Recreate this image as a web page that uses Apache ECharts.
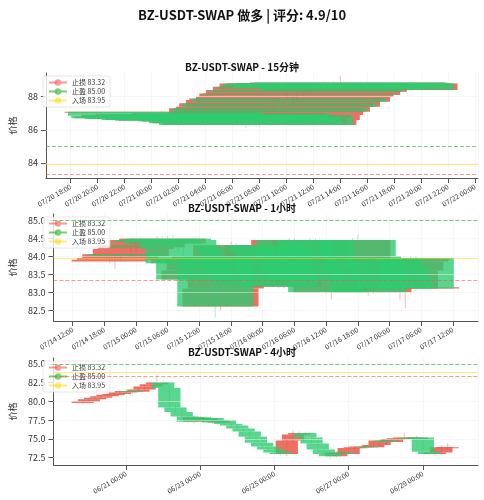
<!DOCTYPE html>
<html>
<head>
<meta charset="utf-8">
<script src="https://cdn.jsdelivr.net/npm/echarts@6/dist/echarts.min.js"></script>
<style>html,body{margin:0;padding:0;background:#fff}#chart{width:484px;height:500px}</style>
</head>
<body>
<div id="chart"></div>
<script>
// 15分钟 K线 (07/21 00:45 起, 每15分钟)
var start15 = '2025-07-21T00:45:00';
var open15  = [87.05,87.10,86.85,86.70,86.80,86.75,86.90,86.65,86.80,86.70,86.95,86.80,86.60,86.75,86.85,86.70,86.55,86.80,86.90,86.65,86.85,87.00,86.70,86.50,86.80,86.60,86.40,86.70,86.90,86.30,86.60,86.90,87.30,87.10,87.40,87.60,87.40,87.80,87.90,87.70,88.00,88.20,88.10,88.40,88.30,88.60,88.50,88.80,88.60,88.80,88.70,88.50,88.80,88.60,88.80,88.70,88.85,88.60,88.80,88.40];
var close15 = [87.10,86.85,86.70,86.80,86.75,86.90,86.65,86.80,86.70,86.95,86.80,86.60,86.75,86.85,86.70,86.55,86.80,86.90,86.65,86.85,87.00,86.70,86.50,86.80,86.60,86.40,86.70,86.90,86.30,86.60,86.90,87.30,87.10,87.40,87.60,87.40,87.80,87.90,87.70,88.00,88.20,88.10,88.40,88.30,88.60,88.50,88.80,88.60,88.80,88.70,88.50,88.80,88.60,88.80,88.70,88.85,88.60,88.80,88.40,88.80];
var low15   = [87.00,86.80,86.65,86.65,86.70,86.70,86.60,86.60,86.65,86.65,86.75,86.55,86.55,86.70,86.60,86.50,86.50,86.75,86.60,86.60,86.80,86.65,86.45,86.45,86.55,86.10,86.35,86.65,86.25,86.25,86.55,86.85,87.05,87.05,87.35,87.35,87.35,87.75,87.65,87.65,87.95,88.05,88.05,88.25,88.25,88.45,88.45,88.55,88.55,88.65,88.45,88.45,88.55,88.55,88.65,88.65,88.55,88.55,88.35,88.35];
var high15  = [87.15,87.15,86.90,86.85,86.85,86.95,86.95,86.85,86.85,87.00,87.00,86.85,86.80,86.90,86.90,86.75,86.85,86.95,86.95,86.90,87.05,87.05,86.75,86.85,86.85,86.65,86.75,86.95,86.95,86.65,86.95,87.35,87.35,87.45,87.65,87.65,87.85,88.45,87.95,88.05,88.25,88.25,88.45,88.45,88.65,88.65,88.85,88.85,88.90,88.80,88.75,88.90,88.85,89.25,88.80,88.90,88.90,88.85,88.85,88.85];

// 1小时 K线 (07/14 19:00 起, 每小时)
var start1h = '2025-07-14T19:00:00';
var open1h  = [83.85,83.90,83.95,84.05,84.00,84.20,84.30,84.25,84.45,84.40,84.50,84.35,84.50,84.45,84.20,83.80,83.95,83.35,83.60,83.90,84.00,82.60,83.10,83.70,84.30,84.05,83.65,83.40,83.20,83.50,84.30,84.10,83.60,83.15,84.05,84.45,83.90,83.60,83.30,84.45,83.85,83.40,83.00,83.30,83.40,83.55,83.95,84.45,84.00,83.60,83.00,83.25,83.95,83.70,83.40,83.10,83.60,83.85,83.95,83.10];
var close1h = [83.90,83.95,84.05,84.00,84.20,84.30,84.25,84.45,84.40,84.50,84.35,84.50,84.45,84.20,83.80,83.95,83.35,83.60,83.90,84.00,82.60,83.10,83.70,84.30,84.05,83.65,83.40,83.20,83.50,84.30,84.10,83.60,83.15,84.05,84.45,83.90,83.60,83.30,84.45,83.85,83.40,83.00,83.30,83.40,83.55,83.95,84.45,84.00,83.60,83.00,83.25,83.95,83.70,83.40,83.10,83.60,83.85,83.95,83.10,83.14];
var low1h   = [83.80,83.65,83.90,83.95,83.95,84.15,84.20,84.20,84.30,84.35,84.30,84.30,84.40,84.10,83.70,83.75,83.30,83.30,83.55,83.85,82.30,82.50,83.05,83.65,83.95,83.60,83.35,83.15,83.15,83.45,84.00,83.55,83.10,83.10,84.00,83.85,83.55,83.25,83.25,83.80,83.35,82.95,82.80,83.25,83.35,83.50,83.90,83.95,83.55,82.90,82.95,83.20,83.65,83.35,83.05,82.80,82.55,83.80,83.05,83.10];
var high1h  = [83.95,84.00,84.10,84.15,84.25,84.35,84.35,84.50,84.50,84.55,84.55,84.55,84.60,84.50,84.25,84.00,84.00,83.70,83.95,84.05,84.10,83.20,83.75,84.40,84.35,84.10,83.70,83.45,83.55,84.35,84.40,84.15,83.65,84.10,84.50,84.50,83.95,83.65,84.50,84.50,83.90,83.45,83.35,83.45,83.60,84.00,84.50,84.60,84.05,83.65,83.30,84.00,84.00,83.75,83.45,83.65,83.90,84.00,84.00,83.18];

// 4小时 K线 (06/19 20:00 起, 每4小时)
var start4h = '2025-06-19T20:00:00';
var open4h  = [79.8,80.0,80.3,80.5,80.7,80.9,81.0,81.2,81.4,81.3,81.6,82.0,82.3,82.6,81.8,79.2,78.6,78.0,77.3,77.9,77.4,77.8,77.2,77.5,77.0,76.8,76.4,76.0,75.3,74.5,74.0,73.6,73.2,73.0,74.8,75.6,75.8,75.2,74.4,73.6,73.0,72.7,73.2,73.0,73.8,73.9,74.0,73.9,74.2,74.8,74.6,75.0,75.1,75.2,75.0,75.2,73.3,73.0,73.2,73.9];
var close4h = [80.0,80.3,80.5,80.7,80.9,81.0,81.2,81.4,81.3,81.6,82.0,82.3,82.6,81.8,79.2,78.6,78.0,77.3,77.9,77.4,77.8,77.2,77.5,77.0,76.8,76.4,76.0,75.3,74.5,74.0,73.6,73.2,73.0,74.8,75.6,75.8,75.2,74.4,73.6,73.0,72.7,73.2,73.0,73.8,73.9,74.0,73.9,74.2,74.8,74.6,75.0,75.1,75.2,75.0,75.2,73.3,73.0,73.2,73.9,73.9];
var low4h   = [79.7,79.9,80.2,80.4,80.5,80.8,80.9,81.1,81.0,81.2,81.5,81.9,82.2,81.6,78.8,78.4,77.8,77.1,77.1,77.2,77.3,77.0,77.1,76.9,76.6,76.3,75.9,75.1,74.3,73.8,73.4,73.0,72.8,72.7,74.6,75.4,75.0,74.2,73.4,72.8,72.3,72.5,72.8,72.9,73.6,73.7,73.7,73.8,74.0,74.4,74.4,74.8,74.9,74.8,74.8,73.1,72.8,72.9,73.0,73.7];
var high4h  = [80.2,80.5,80.7,80.9,81.1,81.3,81.4,81.6,81.6,81.8,82.2,82.5,83.5,82.8,82.0,79.4,78.8,78.2,78.1,78.1,78.0,77.9,77.7,77.6,77.2,76.9,76.5,76.1,75.5,74.7,74.2,73.8,73.4,75.0,76.2,76.0,75.9,75.3,74.5,73.8,73.3,73.4,73.5,74.0,74.1,74.2,74.2,74.4,75.0,75.0,75.2,75.3,75.8,75.3,75.4,75.3,73.4,73.6,74.1,74.4];

var stopLoss = 83.32, takeProfit = 85.00, entry = 83.95;
var tick15 = [84, 86, 88];
var tick1h = [82.5, 83.0, 83.5, 84.0, 84.5, 85.0];
var tick4h = [72.5, 75.0, 77.5, 80.0, 82.5, 85.0];

var HOUR = 3600 * 1000;
var halfW = 0.3 * 24 * HOUR;
var UP = 'rgba(231,76,60,0.8)', DOWN = 'rgba(46,204,113,0.8)';

function rows(start, step, o, c, l, h, up) {
  var t0 = new Date(start).getTime(), out = [];
  for (var i = 0; i < o.length; i++) {
    if ((c[i] >= o[i]) === up) out.push([t0 + i * step, o[i], c[i], l[i], h[i]]);
  }
  return out;
}

function renderCandle(color) {
  return function (params, api) {
    var t = api.value(0), o = api.value(1), c = api.value(2);
    var lo = api.coord([t, api.value(3)]), hi = api.coord([t, api.value(4)]);
    var a = api.coord([t - halfW, Math.max(o, c)]);
    var b = api.coord([t + halfW, Math.min(o, c)]);
    return {
      type: 'group',
      children: [
        { type: 'line', shape: { x1: lo[0], y1: lo[1], x2: hi[0], y2: hi[1] },
          style: { stroke: color, lineWidth: 0.8, opacity: 0.6 } },
        { type: 'rect', shape: { x: a[0], y: a[1], width: b[0] - a[0], height: Math.max(b[1] - a[1], 1) },
          style: { fill: color } }
      ]
    };
  };
}

var grids = [
  { left: 40, right: 6, top: 73, height: 105 },
  { left: 40, right: 6, top: 214, height: 107 },
  { left: 40, right: 6, top: 358, height: 107 }
];
var xRanges = [
  ['2025-07-20T16:10:00', '2025-07-22T00:13:00', 3 * HOUR],
  ['2025-07-14T08:20:00', '2025-07-17T16:47:00', 12 * HOUR],
  ['2025-06-19T01:00:00', '2025-06-30T11:40:00', 48 * HOUR]
];
var yRanges = [[83.1, 89.43, tick15], [82.2, 85.17, tick1h], [71.53, 85.8, tick4h]];
var titles = ['BZ-USDT-SWAP - 15分钟', 'BZ-USDT-SWAP - 1小时', 'BZ-USDT-SWAP - 4小时'];
var candleSets = [
  [start15, 15 * 60 * 1000, open15, close15, low15, high15],
  [start1h, HOUR, open1h, close1h, low1h, high1h],
  [start4h, 4 * HOUR, open4h, close4h, low4h, high4h]
];
var yDigits = [0, 1, 1];

var option = {
  animation: false,
  backgroundColor: '#fff',
  textStyle: { fontFamily: '"Noto Sans CJK SC", "DejaVu Sans", sans-serif' },
  title: [{ text: 'BZ-USDT-SWAP 做多 | 评分: 4.9/10', left: 'center', top: 4,
            textStyle: { fontSize: 13, fontWeight: 'bold', color: '#111' } }],
  grid: grids,
  legend: [],
  xAxis: [], yAxis: [], series: []
};

grids.forEach(function (g, i) {
  option.title.push({ text: titles[i], left: 'center', top: g.top - 16,
    textStyle: { fontSize: 10, fontWeight: 'bold', color: '#111' } });
  option.xAxis.push({
    type: 'time', gridIndex: i,
    min: new Date(xRanges[i][0]).getTime(), max: new Date(xRanges[i][1]).getTime(),
    minInterval: xRanges[i][2], maxInterval: xRanges[i][2],
    axisLine: { lineStyle: { color: '#555' } },
    axisTick: { lineStyle: { color: '#555' } },
    axisLabel: { rotate: 30, fontSize: 7, color: '#333', hideOverlap: false,
      formatter: '{MM}/{dd} {HH}:{mm}' },
    splitLine: { show: true, lineStyle: { color: '#eee', width: 0.5 } }
  });
  option.yAxis.push({
    type: 'value', gridIndex: i, min: yRanges[i][0], max: yRanges[i][1],
    name: '价格', nameLocation: 'middle', nameGap: 26, nameRotate: 90,
    nameTextStyle: { fontSize: 9, color: '#333' },
    axisLine: { show: true, lineStyle: { color: '#555' } },
    axisTick: { show: true, customValues: yRanges[i][2] },
    axisLabel: { fontSize: 9, color: '#333', customValues: yRanges[i][2],
      formatter: function (v) { return v.toFixed(yDigits[i]); } },
    splitLine: { show: false }
  });
  var cs = candleSets[i];
  [[true, UP], [false, DOWN]].forEach(function (d) {
    option.series.push({
      type: 'custom', xAxisIndex: i, yAxisIndex: i, clip: true,
      renderItem: renderCandle(d[1]),
      encode: { x: 0, y: [1, 2, 3, 4] },
      data: rows(cs[0], cs[1], cs[2], cs[3], cs[4], cs[5], d[0])
    });
  });
  // gridlines on label values
  option.series.push({
    type: 'line', xAxisIndex: i, yAxisIndex: i, data: [], silent: true,
    markLine: { symbol: 'none', silent: true, label: { show: false },
      lineStyle: { color: '#eee', width: 0.5, type: 'solid' },
      data: yRanges[i][2].map(function (v) { return { yAxis: v }; }) }
  });
  var levels = [
    ['止损 ' + stopLoss.toFixed(2), stopLoss, 'rgba(255,80,80,0.6)', 'dashed'],
    ['止盈 ' + takeProfit.toFixed(2), takeProfit, 'rgba(60,190,60,0.7)', 'dashed'],
    ['入场 ' + entry.toFixed(2), entry, 'rgba(255,215,0,0.5)', 'solid']
  ];
  levels.forEach(function (lv) {
    option.series.push({
      name: lv[0], type: 'line', xAxisIndex: i, yAxisIndex: i, data: [], symbol: 'none',
      lineStyle: { color: lv[2], type: lv[3], width: 1 }, itemStyle: { color: lv[2] },
      markLine: { symbol: 'none', silent: true, label: { show: false },
        lineStyle: { color: lv[2], type: lv[3], width: 1 },
        data: [{ yAxis: lv[1] }] }
    });
  });
  option.legend.push({
    data: levels.map(function (lv) { return lv[0]; }),
    orient: 'vertical', left: 43, top: g.top + 3, itemWidth: 18, itemHeight: 8, itemGap: 2,
    textStyle: { fontSize: 7, color: '#333' }, padding: [3, 5],
    backgroundColor: 'rgba(255,255,255,0.8)', borderColor: '#ccc', borderWidth: 0.5, borderRadius: 2
  });
});

var myChart = echarts.init(document.getElementById('chart'));
myChart.setOption(option);
</script>
</body>
</html>
